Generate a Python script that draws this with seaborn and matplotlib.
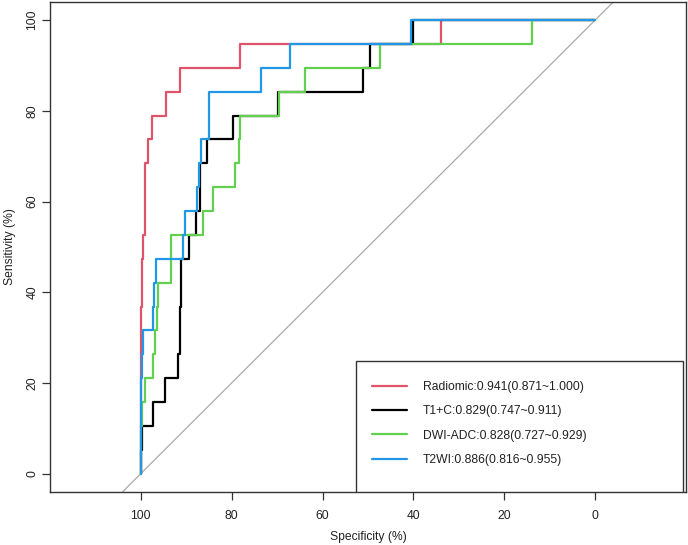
import numpy as np
import pandas as pd
import matplotlib
matplotlib.use('Agg')
import matplotlib.pyplot as plt
import seaborn as sns
from matplotlib.patches import Rectangle

# ROC curves (specificity %, sensitivity %)
# spec = x position of each vertical step, sens = level reached at the top of that step
labels = ['Radiomic:0.941(0.871~1.000)', 'T1+C:0.829(0.747~0.911)',
          'DWI-ADC:0.828(0.727~0.929)', 'T2WI:0.886(0.816~0.955)']
colors = ['#DF536B', '#000000', '#61D04F', '#2297E6']

radiomic_spec = [100, 99.64, 99.42, 99.13, 98.32, 97.59, 94.5, 91.35, 78.07, 33.9]
radiomic_sens = [36.8, 47.4, 52.6, 68.4, 73.7, 78.9, 84.2, 89.5, 94.7, 100]

t1c_spec = [100, 99.64, 97.37, 94.7, 91.8, 91.4, 91.1, 89.37, 87.9, 86.9, 85.4, 79.8, 69.8, 51.2, 49.5, 40.14]
t1c_sens = [5.3, 10.5, 15.8, 21.1, 26.3, 36.8, 47.4, 52.6, 57.9, 68.4, 73.7, 78.9, 84.2, 89.5, 94.7, 100]

dwi_spec = [100, 99.64, 99.05, 97.37, 96.85, 96.48, 96.12, 93.33, 86.43, 84.16, 79.17, 78.5, 78.14, 69.7, 63.83, 47.4, 13.8]
dwi_sens = [10.5, 15.8, 21.1, 26.3, 31.6, 36.8, 42.1, 52.6, 57.9, 63.2, 68.4, 73.7, 78.9, 84.2, 89.5, 94.7, 100]

t2wi_spec = [100, 99.64, 99.42, 97.37, 97.15, 96.63, 90.62, 90.25, 87.67, 87.17, 86.8, 84.97, 73.5, 67.14, 40.57]
t2wi_sens = [21.1, 26.3, 31.6, 36.8, 42.1, 47.4, 52.6, 57.9, 63.2, 68.4, 73.7, 84.2, 89.5, 94.7, 100]

x_ticks = [100, 80, 60, 40, 20, 0]
y_ticks = [0, 20, 40, 60, 80, 100]


def roc_path(spec, sens):
    xs, ys = [spec[0]], [0]
    prev = 0
    for s, t in zip(spec, sens):
        xs += [s, s]
        ys += [prev, t]
        prev = t
    xs.append(0)
    ys.append(sens[-1])
    return xs, ys


rows = []
for name, sp, se in zip(labels,
                        [radiomic_spec, t1c_spec, dwi_spec, t2wi_spec],
                        [radiomic_sens, t1c_sens, dwi_sens, t2wi_sens]):
    xs, ys = roc_path(sp, se)
    for i, (a, b) in enumerate(zip(xs, ys)):
        rows.append({'model': name, 'order': i, 'spec': a, 'sens': b})
df = pd.DataFrame(rows)

sns.set_style('white')
plt.rcParams['font.family'] = ['Liberation Sans', 'DejaVu Sans']

fig = plt.figure(figsize=(6.88, 5.45), dpi=100)
ax = fig.add_axes([50 / 688, (545 - 491.7) / 545, 636 / 688, 489.7 / 545])

# identity line
ax.axline((100, 0), (0, 100), color='#AAAAAA', lw=0.9, zorder=1)

sns.lineplot(data=df, x='spec', y='sens', hue='model', hue_order=labels,
             palette=colors, sort=False, estimator=None, lw=1.6, ax=ax, zorder=2)

ax.set_xlim(120, -20)
ax.set_ylim(-4, 104)
ax.set_xticks(x_ticks)
ax.set_yticks(y_ticks)
ax.set_xticklabels([str(v) for v in x_ticks])
ax.set_yticklabels([str(v) for v in y_ticks], rotation=90, va='center')
ax.tick_params(axis='both', which='major', bottom=True, left=True, length=5.5, width=0.9,
               color='#333333', labelsize=8.7, labelcolor='#222222', direction='out')
ax.tick_params(axis='x', pad=7.5)
ax.tick_params(axis='y', pad=3)
for sp in ax.spines.values():
    sp.set_color('#333333')
    sp.set_linewidth(1.0)

ax.set_xlabel('Specificity (%)', fontsize=8.7, color='#222222', va='center')
ax.set_ylabel('Sensitivity (%)', fontsize=8.7, color='#222222', va='center')
ax.xaxis.set_label_coords(0.5, (491.7 - 536.7) / 489.7)
ax.yaxis.set_label_coords((10 - 50) / 636, 0.5)

# legend box
ax.add_patch(Rectangle(((355.7 - 50) / 636, 0), (683.3 - 355.7) / 636, (491.7 - 361) / 489.7,
                       transform=ax.transAxes, facecolor='white', edgecolor='#333333',
                       lw=1.0, zorder=3))
handles, _ = ax.get_legend_handles_labels()
leg = ax.legend(handles, labels, loc='upper left',
                bbox_to_anchor=((372 - 50) / 636, (491.7 - 380.75) / 489.7),
                frameon=False, fontsize=8.7, handlelength=2.87, handletextpad=1.37,
                labelspacing=1.03, borderpad=0, borderaxespad=0)
leg.set_zorder(4)
for line in leg.get_lines():
    line.set_linewidth(1.6)
for t in leg.get_texts():
    t.set_color('#222222')

fig.savefig('out.png', dpi=100)
